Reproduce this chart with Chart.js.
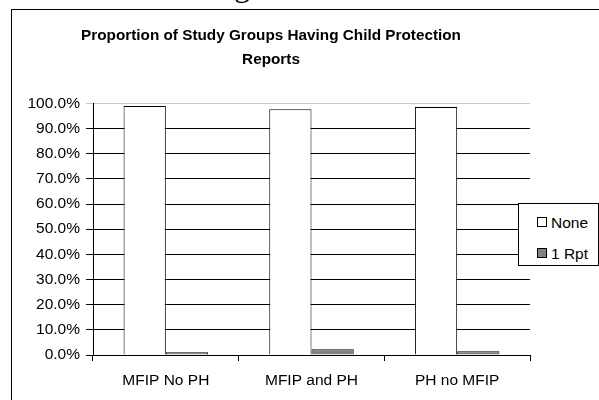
<!DOCTYPE html>
<html>
<head>
<meta charset="utf-8">
<script src="https://cdn.jsdelivr.net/npm/chart.js@4.4.0/dist/chart.umd.min.js"></script>
<style>
  html, body { margin: 0; padding: 0; background: #fff; overflow: hidden; }
  body { width: 599px; height: 400px; position: relative; font-family: "Liberation Sans", Arial, sans-serif; }
  #frame { position: absolute; left: 11px; top: 9px; width: 620px; height: 420px; border: 1px solid #000; box-sizing: border-box; }
  #wrap { position: absolute; left: 12px; top: 10px; width: 522px; height: 390px; }
  #legend { position: absolute; left: 518px; top: 203px; width: 81px; height: 63px; border: 1px solid #000; background: #fff; box-sizing: border-box; }
  .item { position: absolute; left: 18px; font-size: 15.5px; color: #000; line-height: 18px; white-space: nowrap; }
  .sw { display: inline-block; width: 8px; height: 8px; border: 1px solid #000; margin-right: 4px; vertical-align: 1px; }
  #cut { position: absolute; left: 234px; top: -31px; font: 32px "Liberation Serif", "Times New Roman", serif; line-height: 1; }
</style>
</head>
<body>
<div id="cut">g</div>
<div id="frame"></div>
<div id="wrap"><canvas id="chart1"></canvas></div>
<div id="legend"></div>
<script>
// data
const groups = ["MFIP No PH", "MFIP and PH", "PH no MFIP"];
const noneShare = [0.989, 0.977, 0.985];
const oneReportShare = [0.011, 0.023, 0.015];
const seriesNames = ["None", "1 Rpt"];
const seriesColors = ["#ffffff", "#808080"];

const tickFont = { family: "'Liberation Sans', Arial, sans-serif", size: 15.5 };

const chart1Instance = new Chart(document.getElementById("chart1").getContext("2d"), {
  type: 'bar',
  data: {
    labels: groups,
    datasets: [
      { label: seriesNames[0], data: noneShare, backgroundColor: seriesColors[0], borderColor: "#000", borderWidth: 1 },
      { label: seriesNames[1], data: oneReportShare, backgroundColor: seriesColors[1], borderColor: "#000", borderWidth: 1 }
    ]
  },
  options: {
    responsive: true,
    maintainAspectRatio: false,
    animation: false,
    datasets: { bar: { categoryPercentage: 0.58, barPercentage: 1 } },
    layout: { padding: { left: 0, right: 4, top: 0, bottom: 0 } },
    scales: {
      x: {
        grid: { offset: true, drawOnChartArea: false, color: "#000", tickLength: 6 },
        border: { color: "#000" },
        ticks: { font: tickFont, color: "#000", padding: 10, maxRotation: 0 },
        afterFit: s => { s.height = 45; }
      },
      y: {
        min: 0,
        max: 1,
        ticks: {
          stepSize: 0.1,
          font: tickFont,
          color: "#000",
          padding: 6,
          callback: v => (v * 100).toFixed(1) + "%"
        },
        grid: {
          color: c => (c.tick && c.tick.value === 1) ? "#c8c8c8" : "#000",
          tickLength: 7
        },
        border: { color: "#000" },
        afterFit: s => { s.width = 81; }
      }
    },
    plugins: {
      legend: { display: false },
      tooltip: { enabled: false },
      title: {
        display: true,
        text: ["Proportion of Study Groups Having Child Protection", "Reports"],
        color: "#000",
        font: { family: "'Liberation Sans', Arial, sans-serif", size: 15.3, weight: 'bold', lineHeight: 1.57 },
        padding: { top: 13.6, bottom: 31.7 }
      }
    }
  }
});

// legend box, drawn from the same names and colours
const legend = document.getElementById("legend");
seriesNames.forEach((name, i) => {
  const row = document.createElement("div");
  row.className = "item";
  row.style.top = (10 + i * 31) + "px";
  row.innerHTML = '<span class="sw" style="background:' + seriesColors[i] + '"></span>' + name;
  legend.appendChild(row);
});
</script>
</body>
</html>
